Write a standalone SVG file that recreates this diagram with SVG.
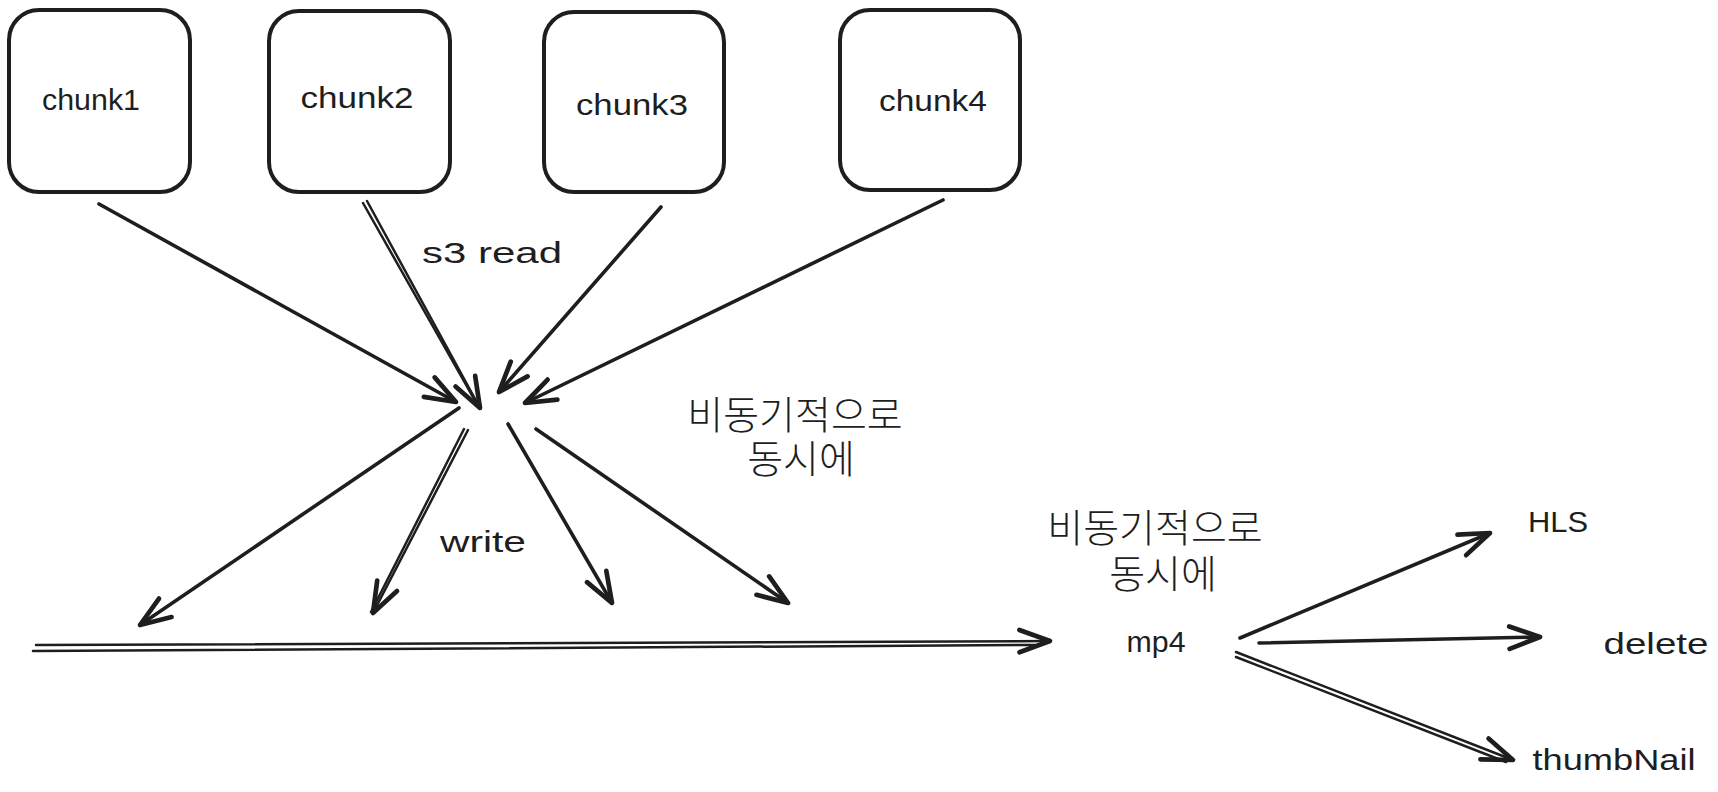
<svg xmlns="http://www.w3.org/2000/svg" width="1718" height="792" viewBox="0 0 1718 792">
<style>
.box{fill:#ffffff;stroke:#1e1e1e;stroke-width:4}
.ln{fill:none;stroke:#1e1e1e;stroke-width:3.6;stroke-linecap:round}
.dl{fill:none;stroke:#1e1e1e;stroke-width:2.5;stroke-linecap:round}
.lbl{font-family:"Liberation Sans","DejaVu Sans",sans-serif;font-size:30px;fill:#1e1e1e;text-anchor:middle}
.ko{font-family:"Noto Sans CJK KR","Noto Sans",sans-serif;font-size:39px;fill:#1e1e1e;text-anchor:middle;font-weight:300}
</style>
<defs>
<marker id="ah" markerUnits="userSpaceOnUse" markerWidth="40" markerHeight="40" viewBox="-30 -15 34 30" refX="0" refY="0" orient="auto">
<path d="M-26 -9.5 L0 0 L-26 9.5" fill="none" stroke="#1e1e1e" stroke-width="4" stroke-linecap="round" stroke-linejoin="round"/>
</marker>
</defs>
<rect width="1718" height="792" fill="#ffffff"/>
<g id="chunk1"><rect class="box" x="9" y="10" width="181" height="182" rx="30"/><text class="lbl" x="91" y="110" textLength="98" lengthAdjust="spacingAndGlyphs">chunk1</text></g>
<g id="chunk2"><rect class="box" x="269" y="11" width="181" height="181" rx="30"/><text class="lbl" x="357" y="108" textLength="113" lengthAdjust="spacingAndGlyphs">chunk2</text></g>
<g id="chunk3"><rect class="box" x="544" y="12" width="180" height="180" rx="30"/><text class="lbl" x="632" y="115" textLength="112" lengthAdjust="spacingAndGlyphs">chunk3</text></g>
<g id="chunk4"><rect class="box" x="840" y="10" width="180" height="180" rx="30"/><text class="lbl" x="933" y="111" textLength="108" lengthAdjust="spacingAndGlyphs">chunk4</text></g>
<g id="connectors">
<line class="ln" x1="99" y1="204" x2="456" y2="402" marker-end="url(#ah)"/>
<line class="dl" x1="363" y1="203" x2="478" y2="406"/>
<line class="dl" x1="367" y1="201" x2="480" y2="408" marker-end="url(#ah)"/>
<line class="ln" x1="661" y1="207" x2="499" y2="392" marker-end="url(#ah)"/>
<line class="ln" x1="943" y1="200" x2="525" y2="403" marker-end="url(#ah)"/>
<line class="ln" x1="459" y1="408" x2="140" y2="625" marker-end="url(#ah)"/>
<line class="dl" x1="464" y1="429" x2="371" y2="612"/>
<line class="dl" x1="468" y1="430" x2="373" y2="613" marker-end="url(#ah)"/>
<line class="ln" x1="508" y1="424" x2="612" y2="603" marker-end="url(#ah)"/>
<line class="ln" x1="536" y1="429" x2="788" y2="603" marker-end="url(#ah)"/>
<line class="dl" x1="36" y1="645" x2="1050" y2="641" marker-end="url(#ah)"/>
<line class="dl" x1="33" y1="651" x2="1035" y2="645"/>
<line class="ln" x1="1240" y1="638" x2="1490" y2="533" marker-end="url(#ah)"/>
<line class="ln" x1="1259" y1="643" x2="1540" y2="637" marker-end="url(#ah)"/>
<line class="dl" x1="1236" y1="652" x2="1513" y2="760" marker-end="url(#ah)"/>
<line class="dl" x1="1236" y1="657" x2="1506" y2="762"/>
</g>
<g id="labels">
<text class="lbl" x="492" y="263" textLength="140" lengthAdjust="spacingAndGlyphs">s3 read</text>
<text class="lbl" x="483" y="552" textLength="86" lengthAdjust="spacingAndGlyphs">write</text>
<text class="ko" x="795" y="429">비동기적으로<tspan x="801" y="473">동시에</tspan></text>
<text class="ko" x="1155" y="542">비동기적으로<tspan x="1163" y="588">동시에</tspan></text>
</g>
<g id="mp4"><text class="lbl" x="1156" y="652" textLength="59" lengthAdjust="spacingAndGlyphs">mp4</text></g>
<g id="hls"><text class="lbl" x="1558" y="532" textLength="60" lengthAdjust="spacingAndGlyphs">HLS</text></g>
<g id="delete"><text class="lbl" x="1656" y="654" textLength="105" lengthAdjust="spacingAndGlyphs">delete</text></g>
<g id="thumbnail"><text class="lbl" x="1614" y="770" textLength="163" lengthAdjust="spacingAndGlyphs">thumbNail</text></g>
</svg>
